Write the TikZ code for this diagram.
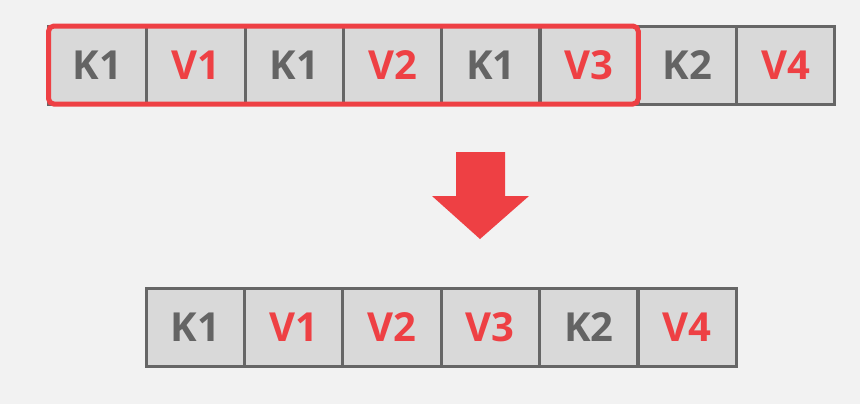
\documentclass[tikz,border=0pt]{standalone}
\usepackage{fontspec}
\setmainfont{Open Sans}
\usetikzlibrary{fit}
\definecolor{bgc}{HTML}{F2F2F2}
\definecolor{cellfill}{HTML}{D9D9D9}
\definecolor{cellline}{HTML}{666666}
\definecolor{keyc}{HTML}{646464}
\definecolor{redc}{HTML}{EE4044}
\begin{document}
\begin{tikzpicture}[x=0.75pt,y=-0.75pt,
  cell/.style={draw=cellline,fill=cellfill,line width=2.25pt,minimum width=73.7pt,minimum height=58.5pt,inner sep=0pt,outer sep=0pt,font=\fontsize{30}{30}\selectfont\bfseries},
  keycell/.style={cell,text=keyc},
  valcell/.style={cell,text=redc},
  groupbox/.style={draw=redc,line width=3.75pt,rounded corners=4pt,inner sep=0pt},
  bigarrow/.style={fill=redc,draw=none}]
\fill[bgc] (0,0) rectangle (860,404);
\useasboundingbox (0,0) rectangle (860,404);
% top row
\node[keycell] (t1) at (97.65,65) {K1};
\node[valcell] (t2) at (195.95,65) {V1};
\node[keycell] (t3) at (294.25,65) {K1};
\node[valcell] (t4) at (392.55,65) {V2};
\node[keycell] (t5) at (490.85,65) {K1};
\node[valcell] (t6) at (589.15,65) {V3};
\node[keycell] (t7) at (687.45,65) {K2};
\node[valcell] (t8) at (785.75,65) {V4};
\node[groupbox,fit=(t1)(t6)] (grp) {};
% arrow
\coordinate (a1) at (456,152);
\coordinate (a2) at (505,152);
\coordinate (a3) at (505,196);
\coordinate (a4) at (529,196);
\coordinate (a5) at (480,239);
\coordinate (a6) at (432,196);
\coordinate (a7) at (456,196);
\fill[bigarrow] (a1) -- (a2) -- (a3) -- (a4) -- (a5) -- (a6) -- (a7) -- cycle;
% bottom row
\node[keycell] (b1) at (195.2,327.5) {K1};
\node[valcell] (b2) at (293.6,327.5) {V1};
\node[valcell] (b3) at (392.0,327.5) {V2};
\node[valcell] (b4) at (490.4,327.5) {V3};
\node[keycell] (b5) at (588.8,327.5) {K2};
\node[valcell] (b6) at (687.2,327.5) {V4};
\end{tikzpicture}
\end{document}
